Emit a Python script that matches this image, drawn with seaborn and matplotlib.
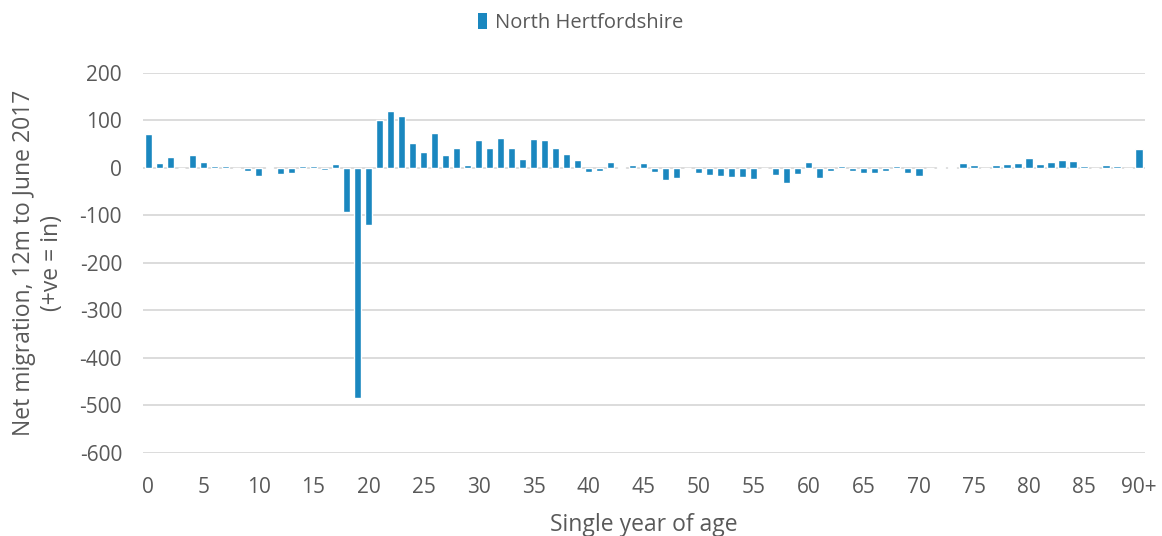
import matplotlib
matplotlib.use("Agg")
import matplotlib.pyplot as plt
import seaborn as sns
import pandas as pd
from matplotlib.patches import Patch

ages = [str(i) for i in range(90)] + ["90+"]
values = [72, 11, 23, 0, 27, 13, 4, 5, -2, -6,
          -18, 1, -12, -11, 4, 5, -4, 8, -93, -484,
          -120, 100, 119, 109, 53, 34, 74, 27, 42, 6,
          59, 42, 64, 42, 18, 60, 58, 42, 30, 16,
          -8, -6, 13, 1, 6, 11, -9, -26, -22, 0,
          -11, -14, -17, -19, -20, -24, -1, -15, -32, -12,
          13, -22, -7, 4, -6, -10, -10, -6, 3, -11,
          -18, 0, 1, 1, 11, 6, -3, 6, 8, 11,
          20, 8, 13, 16, 15, 3, 0, 6, 4, -3,
          39]
tick_labels = [str(i) for i in range(0, 90, 5)] + ["90+"]
series_name = "North Hertfordshire"

df = pd.DataFrame({"age": ages, "value": values})

sns.set_theme(style="white")
plt.rcParams["font.family"] = ["Open Sans", "DejaVu Sans"]

bar_color = "#1A87BF"
text_color = "#595959"

fig = plt.figure(figsize=(11.62, 5.36), dpi=100)
ax = fig.add_axes([0.123, 0.155, 0.862, 0.709])

sns.barplot(data=df, x="age", y="value", order=ages, color=bar_color,
            width=0.65, saturation=1, ax=ax, zorder=3)

ax.set_ylim(-600, 200)
ax.set_yticks(range(-600, 201, 100))
ax.set_yticklabels([str(v) for v in range(-600, 201, 100)])
ax.set_xlim(-0.5, len(ages) - 0.5)
ax.set_xticks([ages.index(t) for t in tick_labels])
ax.set_xticklabels(tick_labels)

ax.grid(axis="y", color="#D9D9D9", linewidth=1.3, zorder=0)
ax.grid(axis="x", visible=False)
for s in ax.spines.values():
    s.set_visible(False)
ax.tick_params(axis="both", length=0, labelsize=15, colors=text_color)
ax.tick_params(axis="y", pad=15)
ax.tick_params(axis="x", pad=17)

ax.set_xlabel("Single year of age", fontsize=16.5, color=text_color, labelpad=11)
ax.set_ylabel("Net migration, 12m to June 2017\n(+ve = in)", fontsize=16.5,
              color=text_color, labelpad=11, linespacing=1.25)

handle = Patch(facecolor=bar_color, edgecolor="none")
fig.legend([handle], [series_name], loc="upper center", bbox_to_anchor=(0.5, 1.01),
           frameon=False, fontsize=14.5, labelcolor=text_color, handlelength=0.45,
           handleheight=0.85, handletextpad=0.4)

fig.savefig("out.png", dpi=100)
